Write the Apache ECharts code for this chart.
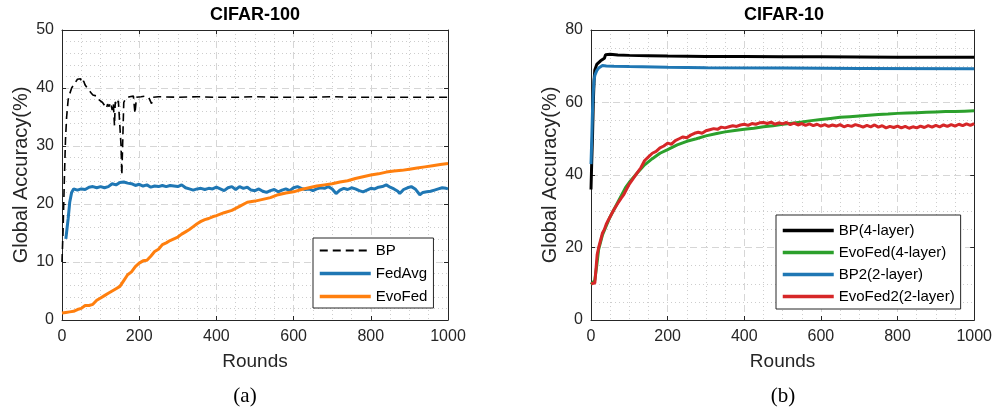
<!DOCTYPE html>
<html><head><meta charset="utf-8">
<script src="https://cdn.jsdelivr.net/npm/echarts@6/dist/echarts.min.js"></script>
<style>html,body{margin:0;padding:0;background:#fff}#c{width:995px;height:408px}</style>
</head><body><div id="c"></div><script>
// ---- Left chart: CIFAR-100 ----
const xTicksLeft = [0, 200, 400, 600, 800, 1000];
const yTicksLeft = [0, 10, 20, 30, 40, 50];
const bpLeft = [[0,10],[3,16],[6,24],[9,31],[12,35],[16,38],[20,39],[25,40],[30,40.5],[35,41],[40,41.5],[45,41.2],[48,41.6],[52,40.8],[56,41.2],[60,40.5],[65,40.2],[70,39.6],[75,39.2],[80,38.8],[85,38.5],[90,38.6],[95,38.0],[100,37.8],[105,37.5],[110,37.2],[115,36.5],[118,37.2],[122,36.8],[126,37.5],[130,36.2],[133,37.4],[136,33.5],[138,37.6],[142,37.0],[146,37.8],[150,37.5],[153,30],[155,25],[157,30],[160,37.5],[165,38.2],[170,38.0],[175,38.5],[180,38.2],[185,38.6],[189,35.6],[193,38.4],[198,38.7],[205,38.5],[215,38.6],[225,38.3],[232,37.3],[236,38.4],[250,38.5],[300,38.4],[350,38.5],[400,38.4],[450,38.4],[500,38.5],[550,38.4],[600,38.4],[650,38.4],[700,38.5],[750,38.4],[800,38.4],[850,38.4],[900,38.4],[950,38.4],[1000,38.4]];
const fedAvg = [[10,14],[13,14.3],[16,17.5],[20,20.3],[25,22],[30,22.6],[40,22.4],[50,22.6],[60,22.5],[70,22.9],[80,23.0],[90,22.8],[100,23.0],[110,22.8],[120,23.0],[130,23.5],[140,23.3],[150,23.7],[160,23.8],[170,23.6],[180,23.5],[190,23.2],[200,23.4],[210,23.1],[220,23.3],[230,22.9],[240,23.1],[250,23.0],[260,23.2],[270,23.0],[280,23.2],[290,23.1],[300,23.0],[310,23.3],[320,22.8],[330,22.6],[340,22.4],[350,22.6],[360,22.7],[370,22.5],[380,22.7],[390,22.6],[400,22.9],[410,22.6],[420,22.3],[430,22.8],[440,23.0],[450,22.5],[460,23.0],[470,22.7],[480,22.9],[490,22.4],[500,22.3],[510,22.6],[520,22.2],[530,22.0],[540,22.3],[550,22.5],[560,22.1],[570,22.4],[580,22.6],[590,22.3],[600,22.8],[610,23.0],[620,22.7],[630,22.5],[640,22.6],[650,22.3],[660,22.6],[670,22.8],[680,22.7],[690,23.0],[700,22.6],[710,21.8],[720,22.4],[730,22.7],[740,22.5],[750,22.8],[760,22.6],[770,22.3],[780,22.1],[790,22.4],[800,22.7],[810,22.6],[820,22.9],[830,23.0],[840,23.3],[850,22.9],[860,22.6],[870,22.2],[875,21.8],[885,22.5],[895,22.8],[905,23.0],[915,22.6],[927,21.6],[935,22.0],[945,22.1],[955,22.2],[965,22.4],[975,22.6],[985,22.8],[995,22.7],[1000,22.6]];
const evoFed = [[0,1.2],[10,1.3],[20,1.4],[30,1.5],[40,1.8],[50,2.0],[60,2.5],[70,2.5],[80,2.7],[90,3.4],[100,3.8],[110,4.2],[120,4.6],[130,5.0],[140,5.4],[150,5.8],[160,6.8],[170,7.8],[180,8.3],[190,9.2],[200,9.8],[210,10.2],[220,10.3],[230,11.0],[240,11.8],[250,12.2],[260,13.0],[270,13.3],[280,13.7],[290,14.0],[300,14.3],[310,14.8],[320,15.2],[330,15.6],[340,16.1],[350,16.6],[360,17.0],[370,17.3],[380,17.5],[390,17.8],[400,18.0],[420,18.5],[440,18.9],[460,19.6],[480,20.3],[500,20.5],[520,20.8],[540,21.1],[560,21.6],[580,21.9],[600,22.1],[620,22.5],[640,22.8],[660,23.1],[680,23.3],[700,23.5],[720,23.8],[740,24.0],[760,24.4],[780,24.7],[800,25.0],[820,25.2],[840,25.5],[860,25.7],[880,25.8],[900,26.0],[920,26.2],[940,26.4],[960,26.6],[980,26.8],[1000,27.0]];

// ---- Right chart: CIFAR-10 ----
const xTicksRight = [0, 200, 400, 600, 800, 1000];
const yTicksRight = [0, 20, 40, 60, 80];
const bp4 = [[0,36],[2,44],[4,51],[6,60],[8,66],[10,69],[15,70.5],[20,71],[25,71.5],[30,71.8],[35,72.2],[38,73.2],[42,73.5],[50,73.3],[70,73.1],[100,73.0],[150,72.9],[200,72.8],[300,72.7],[400,72.7],[500,72.6],[600,72.6],[800,72.5],[1000,72.5]];
const evoFed4 = [[0,9.8],[5,10],[10,11],[15,15],[20,19.5],[25,21.5],[30,23.5],[40,26],[50,28.5],[60,30.5],[70,32.5],[80,34.5],[90,36.5],[100,38],[120,40.5],[140,42.8],[160,44.5],[180,46],[200,47],[225,48.3],[250,49.3],[275,50],[300,50.8],[325,51.4],[350,51.9],[375,52.3],[400,52.6],[425,52.9],[450,53.3],[475,53.6],[500,54],[525,54.3],[550,54.6],[575,55],[600,55.3],[625,55.6],[650,55.9],[675,56.1],[700,56.3],[725,56.5],[750,56.7],[775,56.8],[800,57],[825,57.1],[850,57.2],[875,57.3],[900,57.4],[925,57.5],[950,57.5],[975,57.6],[1000,57.7]];
const bp2 = [[0,43],[2,50],[4,58],[6,63],[8,66],[10,67.5],[15,68.8],[20,69.5],[25,70],[30,70.2],[40,70.1],[60,70.0],[100,69.9],[200,69.7],[300,69.6],[500,69.5],[700,69.4],[1000,69.3]];
const evoFed2 = [[0,10],[5,10],[10,10.2],[14,10.5],[16,18],[20,20],[25,22],[30,24],[35,25],[40,26.5],[45,27.5],[50,28.5],[55,29.5],[60,30.5],[65,31],[70,32.2],[75,33],[80,33.8],[85,34.5],[90,35.5],[100,37.5],[110,39],[120,40.5],[130,42],[140,44],[150,45],[160,46],[170,46.5],[180,47.5],[190,48],[200,48.8],[210,48.5],[220,49.5],[230,50],[240,50.5],[250,50.3],[260,51],[270,51.5],[280,51.8],[290,51.5],[300,52.2],[310,52.5],[320,52.8],[330,52.6],[340,53.2],[350,53.0],[360,53.3],[370,53.6],[380,53.4],[390,53.8],[400,54],[410,53.7],[420,54.2],[430,54.0],[440,54.4],[450,54.5],[460,54.2],[470,54.6],[480,54.0],[490,54.4],[500,54.1],[510,54.5],[520,53.9],[530,54.3],[540,53.8],[550,54.2],[560,53.7],[570,54.1],[580,53.6],[590,54.0],[600,53.5],[610,53.9],[620,53.4],[630,53.8],[640,53.5],[650,53.9],[660,53.3],[670,53.7],[680,53.4],[690,53.9],[700,53.6],[710,53.2],[720,53.7],[730,53.3],[740,53.8],[750,53.2],[760,53.6],[770,53.0],[780,53.4],[790,53.1],[800,53.5],[810,53.0],[820,53.4],[830,52.9],[840,53.3],[850,53.0],[860,53.5],[870,53.1],[880,53.6],[890,53.2],[900,53.7],[910,53.3],[920,53.8],[930,53.4],[940,53.9],[950,53.5],[960,54.0],[970,53.6],[980,54.1],[990,53.7],[1000,54.2]];

const FONT = '"Liberation Sans", Arial, sans-serif';
const AX = '#262626';

function ax(kind, grid, ticks, pos, main, minorN, name, nameGap) {
  const min = ticks[0], max = ticks[ticks.length-1], interval = ticks[1]-ticks[0];
  return {
    gridIndex: grid, type: 'value', min, max, interval, position: pos,
    axisLine: {show: true, onZero: false, lineStyle: {color: AX, width: 1}},
    axisTick: {show: true, inside: true, length: 4, lineStyle: {color: AX}},
    minorTick: {show: false, splitNumber: minorN},
    minorSplitLine: {show: main, lineStyle: {color: '#cdcdcd', type: [1, 3], width: 1}},
    splitLine: {show: main, lineStyle: {color: '#d6d6d6', type: [7, 4], width: 1}},
    axisLabel: {show: main, color: AX, fontFamily: FONT, fontSize: 16, margin: kind === 'x' ? 9 : 8,
      formatter: v => String(v)},
    name: main ? name : '', nameLocation: 'middle', nameGap: nameGap,
    nameTextStyle: {color: AX, fontFamily: FONT, fontSize: kind === 'x' ? 19 : 20}
  };
}

const line = (name, data, color, width, xi, yi, type) => ({
  name, type: 'line', data, xAxisIndex: xi, yAxisIndex: yi, symbol: 'none', showSymbol: false,
  lineStyle: {color, width, type: type || 'solid'}, itemStyle: {color}, animation: false, z: 3
});

const legendBase = {
  orient: 'vertical', itemWidth: 51, itemHeight: 14, itemGap: 8,
  backgroundColor: '#fff', borderColor: AX, borderWidth: 1, borderRadius: 0,
  itemStyle: {opacity: 0, color: 'transparent', borderWidth: 0},
  lineStyle: {width: 3.5},
  textStyle: {color: '#000', fontFamily: FONT, fontSize: 15}, selectedMode: false
};

const chart = echarts.init(document.getElementById('c'), null, {renderer: 'canvas'});
chart.setOption({
  animation: false,
  backgroundColor: '#fff',
  grid: [
    {left: 62, top: 30, width: 386, height: 290},
    {left: 591, top: 30, width: 385, height: 290}
  ],
  xAxis: [
    ax('x', 0, xTicksLeft, 'bottom', true, 4, 'Rounds', 32),
    ax('x', 0, xTicksLeft, 'top', false, 4),
    ax('x', 1, xTicksRight, 'bottom', true, 4, 'Rounds', 32),
    ax('x', 1, xTicksRight, 'top', false, 4)
  ],
  yAxis: [
    ax('y', 0, yTicksLeft, 'left', true, 5, 'Global Accuracy(%)', 31),
    ax('y', 0, yTicksLeft, 'right', false, 5),
    ax('y', 1, yTicksRight, 'left', true, 4, 'Global Accuracy(%)', 31),
    ax('y', 1, yTicksRight, 'right', false, 4)
  ],
  legend: [
    Object.assign({}, legendBase, {left: 313, top: 238, padding: [5, 6, 4, 5],
      data: [{name: 'BP', lineStyle: {width: 2}}, 'FedAvg', 'EvoFed']}),
    Object.assign({}, legendBase, {left: 776, top: 215, itemGap: 7, padding: [8, 6, 5, 5],
      data: ['BP(4-layer)', 'EvoFed(4-layer)', 'BP2(2-layer)', 'EvoFed2(2-layer)']})
  ],
  series: [
    line('BP', bpLeft, '#000000', 1.6, 0, 0, [8, 5]),
    line('FedAvg', fedAvg, '#1f77b4', 3, 0, 0),
    line('EvoFed', evoFed, '#ff7f0e', 3, 0, 0),
    line('BP(4-layer)', bp4, '#000000', 3, 2, 2),
    line('EvoFed(4-layer)', evoFed4, '#2ca02c', 3, 2, 2),
    line('BP2(2-layer)', bp2, '#1f77b4', 3, 2, 2),
    line('EvoFed2(2-layer)', evoFed2, '#d62728', 3, 2, 2)
  ],
  graphic: [
    {type: 'text', x: 255, y: 15, style: {text: 'CIFAR-100', font: 'bold 18px ' + FONT, fill: '#000', align: 'center', verticalAlign: 'middle'}},
    {type: 'text', x: 784, y: 15, style: {text: 'CIFAR-10', font: 'bold 18px ' + FONT, fill: '#000', align: 'center', verticalAlign: 'middle'}},
    {type: 'text', x: 245, y: 396, style: {text: '(a)', font: '21px "Liberation Serif", "Times New Roman", serif', fill: '#000', align: 'center', verticalAlign: 'middle'}},
    {type: 'text', x: 783, y: 396, style: {text: '(b)', font: '21px "Liberation Serif", "Times New Roman", serif', fill: '#000', align: 'center', verticalAlign: 'middle'}}
  ]
});
</script></body></html>
